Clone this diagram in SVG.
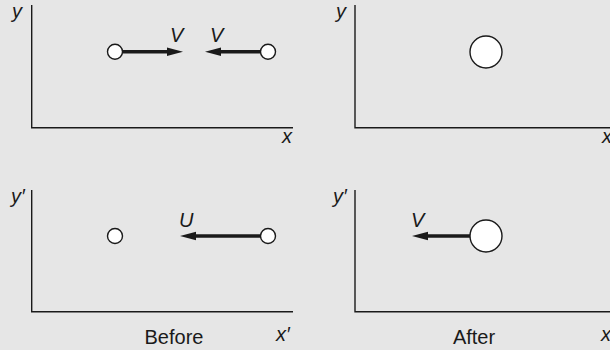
<svg xmlns="http://www.w3.org/2000/svg" width="610" height="350" viewBox="0 0 610 350">
<style>
.axis{stroke:#1a1a1a;stroke-width:1.4;fill:none}
.arr{stroke:#1a1a1a;stroke-width:3.4;fill:none}
.head{fill:#1a1a1a}
.ball{fill:#fff;stroke:#1a1a1a;stroke-width:1.4}
.lab{font-family:"Liberation Sans",Arial,sans-serif;font-style:italic;font-size:20px;fill:#1a1a1a}
.cap{font-family:"Liberation Sans",Arial,sans-serif;font-size:20px;fill:#1a1a1a;text-anchor:middle}
</style>
<rect width="610" height="350" fill="#e6e6e6"/>
<g id="axes" class="axis">
<path d="M31.7 5 V127.7 H293"/>
<path d="M355 5 V127.7 H610"/>
<path d="M31.7 190 V311.7 H293"/>
<path d="M355 190 V311.7 H610"/>
</g>
<g id="connectors">
<line class="arr" x1="122" y1="51.7" x2="170" y2="51.7"/>
<polygon class="head" points="183,51.7 167,47.5 167,55.9"/>
<line class="arr" x1="261" y1="51.7" x2="218" y2="51.7"/>
<polygon class="head" points="205,51.7 221,47.5 221,55.9"/>
<line class="arr" x1="261" y1="236" x2="193" y2="236"/>
<polygon class="head" points="180,236 196,231.8 196,240.2"/>
<line class="arr" x1="471" y1="236" x2="425" y2="236"/>
<polygon class="head" points="412,236 428,231.8 428,240.2"/>
</g>
<g id="n1"><circle class="ball" cx="115" cy="51.7" r="7.5"/></g>
<g id="n2"><circle class="ball" cx="268" cy="51.7" r="7.5"/></g>
<g id="n3"><circle class="ball" cx="486" cy="52" r="16"/></g>
<g id="n4"><circle class="ball" cx="115" cy="236" r="7.5"/></g>
<g id="n5"><circle class="ball" cx="268" cy="236" r="7.5"/></g>
<g id="n6"><circle class="ball" cx="486" cy="236" r="16"/></g>
<g id="labels">
<text class="lab" x="12" y="18">y</text>
<text class="lab" x="282" y="143">x</text>
<text class="lab" x="336" y="18">y</text>
<text class="lab" x="602" y="143">x</text>
<text class="lab" x="170" y="42">V</text>
<text class="lab" x="210" y="42">V</text>
<text class="lab" x="11" y="203">y′</text>
<text class="lab" x="276" y="341">x′</text>
<text class="lab" x="333" y="203">y′</text>
<text class="lab" x="601" y="341">x′</text>
<text class="lab" x="179" y="227">U</text>
<text class="lab" x="411" y="227">V</text>
<text class="cap" x="174" y="344">Before</text>
<text class="cap" x="474" y="344">After</text>
</g>
</svg>
